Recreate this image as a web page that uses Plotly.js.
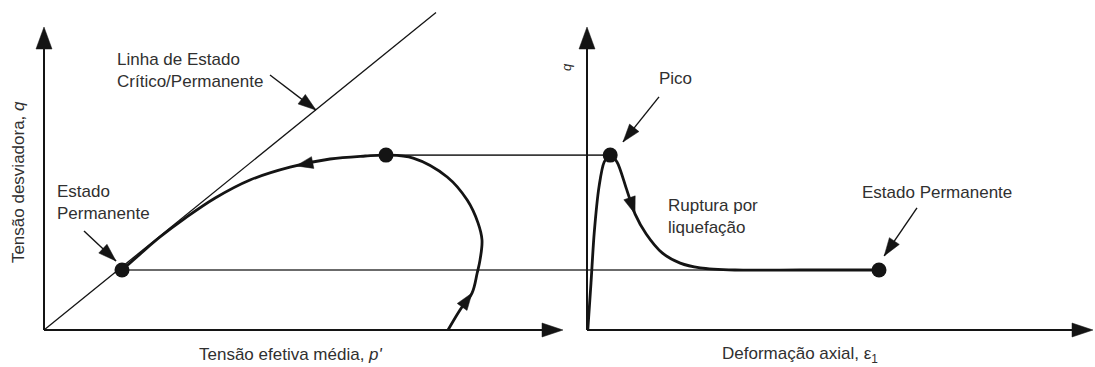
<!DOCTYPE html>
<html>
<head>
<meta charset="utf-8">
<script src="https://cdn.plot.ly/plotly-3.0.1.min.js"></script>
<style>
  html, body { margin: 0; padding: 0; background: #fff; }
  #chart { width: 1095px; height: 367px; }
</style>
</head>
<body>
<div id="chart"></div>
<script>
// Undrained stress path (p'-q) and stress-strain curve (eps1-q) for flow liquefaction.
// Values are in arbitrary schematic units.

// Effective stress path, from the initial state up to the peak and back down to steady state
const pPath = [10.10, 10.40, 10.70, 10.83, 10.90, 10.95, 10.85, 10.58, 10.08, 9.23, 8.55, 8.03, 7.15, 6.15, 5.15, 4.28, 3.53, 2.90, 2.40, 1.95];
const qPath = [0.00, 0.67, 1.23, 1.90, 2.33, 3.00, 3.57, 4.33, 5.10, 5.73, 5.83, 5.80, 5.70, 5.43, 5.00, 4.40, 3.73, 3.10, 2.53, 2.00];

// Deviator stress against axial strain
const epsPath = [0.02, 0.10, 0.18, 0.30, 0.43, 0.58, 0.75, 0.98, 1.20, 1.48, 1.88, 2.33, 2.83, 3.70, 5.33, 7.30];
const qStrain = [0.00, 1.57, 3.23, 4.77, 5.60, 5.83, 5.60, 4.73, 3.87, 3.20, 2.57, 2.23, 2.07, 2.00, 2.00, 2.00];

// Peak and steady (critical) state
const peakState = [8.55, 5.83, 0.58];     // p', q, eps1
const steadyState = [1.95, 2.00, 7.30];   // p', q, eps1

// Critical state line q = M p'
const cslSlope = 1.08;
const cslEndP = 9.8;

// ---- layout geometry ----
const W = 1095, H = 367;
const splitPx = 575;
const pxX = 40, pxY = 30;                    // pixels per unit
const originL = 44, originR = 587, originY = 330;
const xRangeL = [-originL / pxX, (splitPx - originL) / pxX];
const xRangeR = [(splitPx - originR) / pxX, (W - originR) / pxX];
const yRange = [-(H - originY) / pxY, originY / pxY];

const axisTopQ = 10.1, axisEndP = 12.975, axisEndEps = 12.65;

const INK = '#141414';
const TXT = '#303030';
const FONT = '"Liberation Sans", Arial, sans-serif';
const FS = 17;

// filled arrowhead with its tip at (x, y); direction (dx, dy) in screen pixels, y up
function head(xref, x, y, dx, dy, len, half, color) {
  const n = Math.hypot(dx, dy), ux = dx / n, uy = dy / n;
  const bx = -len * ux, by = -len * uy;
  const a = [bx - half * uy, by + half * ux];
  const b = [bx + half * uy, by - half * ux];
  return {
    type: 'path', xref: xref, yref: 'y', xsizemode: 'pixel', ysizemode: 'pixel',
    xanchor: x, yanchor: y, layer: 'above',
    path: 'M0,0L' + a[0].toFixed(2) + ',' + a[1].toFixed(2) + 'L' + b[0].toFixed(2) + ',' + b[1].toFixed(2) + 'Z',
    fillcolor: color || INK, line: { color: color || INK, width: 0.5 }
  };
}

const shapes = [];

// axes with arrowheads
shapes.push({ type: 'line', xref: 'x', yref: 'y', x0: 0, y0: 0, x1: 0, y1: axisTopQ - 0.3, line: { color: INK, width: 2 } });
shapes.push({ type: 'line', xref: 'x', yref: 'y', x0: 0, y0: 0, x1: axisEndP - 0.3, y1: 0, line: { color: INK, width: 2 } });
shapes.push({ type: 'line', xref: 'x2', yref: 'y', x0: 0, y0: 0, x1: 0, y1: axisTopQ - 0.3, line: { color: INK, width: 2 } });
shapes.push({ type: 'line', xref: 'x2', yref: 'y', x0: 0, y0: 0, x1: axisEndEps - 0.3, y1: 0, line: { color: INK, width: 2 } });
shapes.push(head('x', 0, axisTopQ, 0, 1, 22, 8));
shapes.push(head('x', axisEndP, 0, 1, 0, 21, 7));
shapes.push(head('x2', 0, axisTopQ, 0, 1, 22, 8));
shapes.push(head('x2', axisEndEps, 0, 1, 0, 21, 7));

// leader arrows for the labels: [xref, tailX, tailY, tipX, tipY]
const leaders = [
  ['x', 5.65, 8.50, 6.80, 7.33],
  ['x', 1.00, 3.30, 1.80, 2.30],
  ['x2', 1.80, 7.77, 0.90, 6.27],
  ['x2', 8.25, 4.07, 7.43, 2.47]
];
leaders.forEach(function (l) {
  shapes.push({ type: 'line', xref: l[0], yref: 'y', x0: l[1], y0: l[2], x1: l[3], y1: l[4], line: { color: INK, width: 1.4 } });
  shapes.push(head(l[0], l[3], l[4], (l[3] - l[1]) * pxX, (l[4] - l[2]) * pxY, 18, 6));
});

// direction arrows on the curves: [xref, xs, ys, segment index, position along segment]
const flowMarks = [
  ['x', pPath, qPath, 12, 0.85],
  ['x', pPath, qPath, 1, 1.0],
  ['x2', epsPath, qStrain, 7, 1.0]
];
flowMarks.forEach(function (m) {
  const xs = m[1], ys = m[2], i = m[3], t = m[4];
  const tx = xs[i] + t * (xs[i + 1] - xs[i]);
  const ty = ys[i] + t * (ys[i + 1] - ys[i]);
  shapes.push(head(m[0], tx, ty, (xs[i + 1] - xs[i]) * pxX, (ys[i + 1] - ys[i]) * pxY, 17, 6));
});

const traces = [
  { // critical state line
    x: [0, cslEndP], y: [0, cslSlope * cslEndP], xaxis: 'x', yaxis: 'y',
    mode: 'lines', line: { color: INK, width: 1.3 }, hoverinfo: 'skip'
  },
  { // peak level, left part
    x: [peakState[0], xRangeL[1] + 1], y: [peakState[1], peakState[1]], xaxis: 'x', yaxis: 'y',
    mode: 'lines', line: { color: '#3a3a3a', width: 1.6 }, hoverinfo: 'skip'
  },
  { // steady level, left part
    x: [steadyState[0], xRangeL[1] + 1], y: [steadyState[1], steadyState[1]], xaxis: 'x', yaxis: 'y',
    mode: 'lines', line: { color: '#3a3a3a', width: 1.6 }, hoverinfo: 'skip'
  },
  { // peak level, right part
    x: [xRangeR[0] - 1, peakState[2]], y: [peakState[1], peakState[1]], xaxis: 'x2', yaxis: 'y',
    mode: 'lines', line: { color: '#3a3a3a', width: 1.6 }, hoverinfo: 'skip'
  },
  { // steady level, right part
    x: [xRangeR[0] - 1, steadyState[2]], y: [steadyState[1], steadyState[1]], xaxis: 'x2', yaxis: 'y',
    mode: 'lines', line: { color: '#3a3a3a', width: 1.6 }, hoverinfo: 'skip'
  },
  { // stress path
    x: pPath, y: qPath, xaxis: 'x', yaxis: 'y',
    mode: 'lines', line: { color: INK, width: 2.8, shape: 'spline', smoothing: 1 }, hoverinfo: 'skip'
  },
  { // stress-strain curve
    x: epsPath, y: qStrain, xaxis: 'x2', yaxis: 'y',
    mode: 'lines', line: { color: INK, width: 2.8, shape: 'spline', smoothing: 0.8 }, hoverinfo: 'skip'
  },
  { // states in p'-q
    x: [steadyState[0], peakState[0]], y: [steadyState[1], peakState[1]], xaxis: 'x', yaxis: 'y',
    mode: 'markers', marker: { color: INK, size: 15 }, hoverinfo: 'skip', cliponaxis: false
  },
  { // states in eps1-q
    x: [peakState[2], steadyState[2]], y: [peakState[1], steadyState[1]], xaxis: 'x2', yaxis: 'y',
    mode: 'markers', marker: { color: INK, size: 15 }, hoverinfo: 'skip', cliponaxis: false
  }
];

function label(text, xref, x, y, extra) {
  return Object.assign({
    text: text, xref: xref, yref: 'y', x: x, y: y, showarrow: false,
    xanchor: 'left', yanchor: 'middle', align: 'left',
    font: { family: FONT, size: FS, color: TXT }
  }, extra || {});
}

const annotations = [
  label('Linha de Estado<br>Crítico/Permanente', 'x', 1.775, 8.65),
  label('Estado<br>Permanente', 'x', 0.275, 4.25),
  label('Tensão desviadora, <i>q</i>', 'x', -0.65, 4.93, { xanchor: 'center', textangle: -90 }),
  label('Tensão efetiva média, <i>p\'</i>', 'x', 6.18, -0.8, { xanchor: 'center' }),
  label('<i>q</i>', 'paper', 567 / W, 8.77, { xanchor: 'center', textangle: -90, font: { family: FONT, size: 13, color: TXT } }),
  label('Pico', 'x2', 1.75, 8.4),
  label('Ruptura por<br>liquefação', 'x2', 1.975, 3.8),
  label('Estado Permanente', 'x2', 6.825, 4.6),
  label('Deformação axial, ε<sub>1</sub>', 'x2', 5.33, -0.83, { xanchor: 'center' })
];

const hidden = {
  showgrid: false, zeroline: false, showline: false, showticklabels: false,
  ticks: '', fixedrange: true
};

const layout = {
  width: W, height: H,
  margin: { l: 0, r: 0, t: 0, b: 0, pad: 0 },
  paper_bgcolor: '#ffffff', plot_bgcolor: 'rgba(0,0,0,0)',
  showlegend: false,
  font: { family: FONT, color: TXT },
  xaxis: Object.assign({ domain: [0, splitPx / W], range: xRangeL, anchor: 'y' }, hidden),
  xaxis2: Object.assign({ domain: [splitPx / W, 1], range: xRangeR, anchor: 'y' }, hidden),
  yaxis: Object.assign({ domain: [0, 1], range: yRange, anchor: 'x' }, hidden),
  shapes: shapes,
  annotations: annotations
};

Plotly.newPlot('chart', traces, layout, { staticPlot: true, displayModeBar: false });
</script>
</body>
</html>
